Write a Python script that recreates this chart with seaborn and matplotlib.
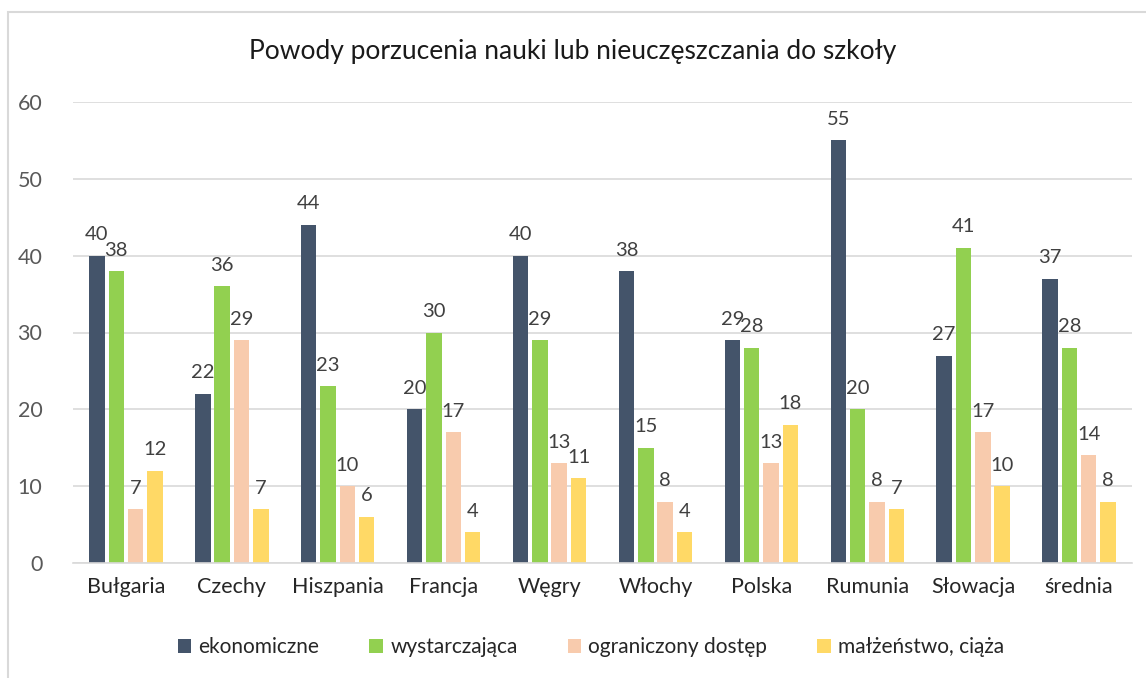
import pandas as pd
import matplotlib.pyplot as plt
import matplotlib.patches as patches
import seaborn as sns

kraje = ['Bułgaria', 'Czechy', 'Hiszpania', 'Francja', 'Węgry', 'Włochy',
         'Polska', 'Rumunia', 'Słowacja', 'średnia']
ekonomiczne = [40, 22, 44, 20, 40, 38, 29, 55, 27, 37]
wystarczajaca = [38, 36, 23, 30, 29, 15, 28, 20, 41, 28]
ograniczony_dostep = [7, 29, 10, 17, 13, 8, 13, 8, 17, 14]
malzenstwo_ciaza = [12, 7, 6, 4, 11, 4, 18, 7, 10, 8]

serie = {
    'ekonomiczne': ekonomiczne,
    'wystarczająca': wystarczajaca,
    'ograniczony dostęp': ograniczony_dostep,
    'małżeństwo, ciąża': malzenstwo_ciaza,
}
kolory = ['#44546A', '#92D050', '#F8CBAD', '#FFD966']

rows = []
for powod, vals in serie.items():
    for k, v in zip(kraje, vals):
        rows.append({'kraj': k, 'wartosc': v, 'powod': powod})
df = pd.DataFrame(rows)

sns.set_theme(style="white")
plt.rcParams['font.family'] = ['Lato', 'DejaVu Sans']

fig = plt.figure(figsize=(11.46, 6.78), dpi=100)
ax = fig.add_axes([73 / 1146, 1 - 563 / 678, (1132 - 73) / 1146, (563 - 102) / 678])

sns.barplot(data=df, x='kraj', y='wartosc', hue='powod', palette=kolory,
            width=0.73, gap=0.2, ax=ax, saturation=1, errorbar=None, linewidth=0)

for c in ax.containers:
    ax.bar_label(c, padding=9, fontsize=14.5, color='#404040')

ax.set_ylim(0, 60)
ax.set_yticks(range(0, 61, 10))
ax.set_xlim(-0.5, len(kraje) - 0.5)
ax.yaxis.grid(True, color='#D9D9D9', linewidth=1.2)
ax.set_axisbelow(True)
for s in ['top', 'right', 'left']:
    ax.spines[s].set_visible(False)
ax.spines['bottom'].set_color('#D9D9D9')
ax.spines['bottom'].set_linewidth(1.2)
ax.tick_params(axis='y', length=0, pad=22, labelsize=15.5, labelcolor='#595959')
ax.tick_params(axis='x', length=0, pad=10, labelsize=15.5, labelcolor='#262626')
ax.set_xlabel('')
ax.set_ylabel('')

fig.text(0.5, 1 - 52 / 678, 'Powody porzucenia nauki lub nieuczęszczania do szkoły',
         ha='center', va='center', fontsize=19, color='#1a1a1a')

ax.legend(loc='center', bbox_to_anchor=(591 / 1146, 1 - 647 / 678),
          bbox_transform=fig.transFigure, ncol=4, frameon=False, fontsize=15,
          handlelength=0.65, handleheight=0.65, handletextpad=0.35, columnspacing=2.4,
          labelcolor='#262626')

fig.patches.append(patches.Rectangle((8 / 1146, -0.05), 1.0, 1 - 12 / 678 + 0.05,
                                     transform=fig.transFigure, fill=False,
                                     edgecolor='#D9D9D9', linewidth=1.5))

plt.savefig('out.png', dpi=100)
